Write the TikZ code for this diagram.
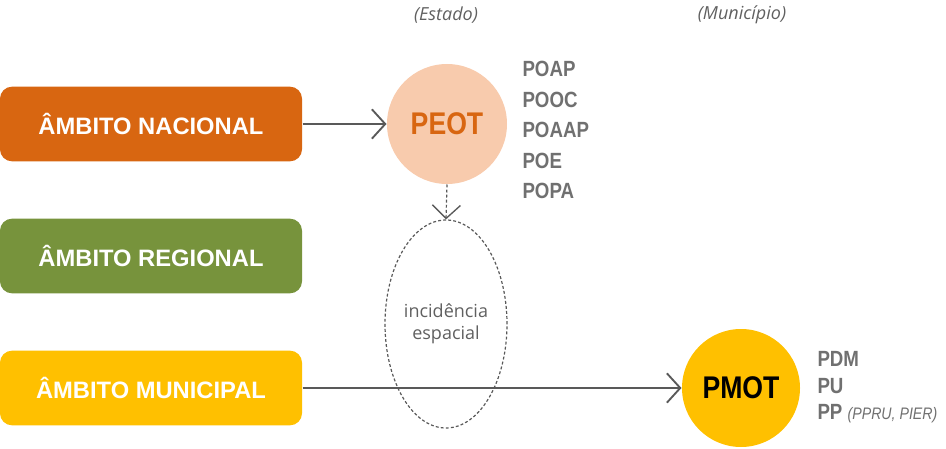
\documentclass[tikz,border=0pt]{standalone}
\usepackage{fontspec}
\setmainfont{Liberation Sans}
\newfontfamily\narrowfont[FakeStretch=0.85]{Liberation Sans}
\newfontfamily\notefont{Open Sans}
\usetikzlibrary{arrows.meta,shapes.geometric}

\definecolor{nacional}{RGB}{216,102,17}
\definecolor{regional}{RGB}{119,147,60}
\definecolor{municipal}{RGB}{255,192,0}
\definecolor{peotfill}{RGB}{248,203,173}
\definecolor{listgray}{RGB}{112,112,112}
\definecolor{notegray}{RGB}{96,96,96}
\definecolor{linegray}{RGB}{89,89,89}

\tikzset{every picture/.style={line width=0.75pt}}
\tikzset{
  ambito/.style={rectangle, rounded corners=9pt, minimum width=226.5pt, minimum height=56pt,
    inner sep=0pt, text=white, font=\fontsize{17.8}{20}\selectfont\bfseries},
  plano/.style={circle, inner sep=0pt, font=\narrowfont\fontsize{23.5}{26}\selectfont\bfseries},
  lista/.style={anchor=north west, inner sep=0pt, align=left, text=listgray,
    font=\narrowfont\fontsize{16.5}{22.9}\selectfont\bfseries},
  nota/.style={text=notegray, inner sep=0pt, font=\notefont\itshape\fontsize{13.5}{15}\selectfont},
  link/.style={draw=linegray, line width=1.9pt, -{Straight Barb[length=10pt,width=22pt,line width=1.4pt]}},
  dlink/.style={draw=linegray, line width=0.9pt, dash pattern=on 2.2pt off 1.6pt,
    -{Straight Barb[length=10pt,width=21pt,line width=1pt,sep=0pt]}},
}

\begin{document}
\begin{tikzpicture}[x=0.75pt,y=0.75pt,yscale=-1,xscale=1]
\useasboundingbox (0,0) rectangle (946,449);

% ambitos
\node [ambito, fill=nacional] (nacional) at (151,124) {ÂMBITO NACIONAL};
\node [ambito, fill=regional] (regional) at (151,256) {ÂMBITO REGIONAL};
\node [ambito, fill=municipal] (municipal) at (151,388) {ÂMBITO MUNICIPAL};

% planos
\node [plano, fill=peotfill, text=nacional, minimum size=90pt] (peot) at (447,124) {PEOT};
\node [plano, fill=municipal, text=black, minimum size=88.5pt] (pmot) at (741,388) {PMOT};

\node [ellipse, draw=linegray, line width=0.9pt, dash pattern=on 2.2pt off 1.6pt,
  minimum width=91.5pt, minimum height=156pt, inner sep=0pt, align=center,
  text=notegray, font=\notefont\fontsize{13.5}{16.5}\selectfont]
  (incid) at (446,324) {incidência\\espacial};

\node [nota] (estado) at (446,15) {(Estado)};
\node [nota] (municipio) at (742,15) {(Município)};

\node [lista] (listapeot) at (522,61) {POAP\\POOC\\POAAP\\POE\\POPA};
\node [lista, font=\narrowfont\fontsize{16.5}{20}\selectfont\bfseries] (listapmot) at (817,351)
  {PDM\\PU\\PP {\mdseries\itshape\fontsize{12.5}{13}\selectfont (PPRU, PIER)}};

% ligacoes
\draw [link] (nacional.east) -- (peot.west);
\draw [link] (municipal.east) -- (pmot.west);
\draw [dlink] (peot.south) -- (incid.north);
\end{tikzpicture}
\end{document}
